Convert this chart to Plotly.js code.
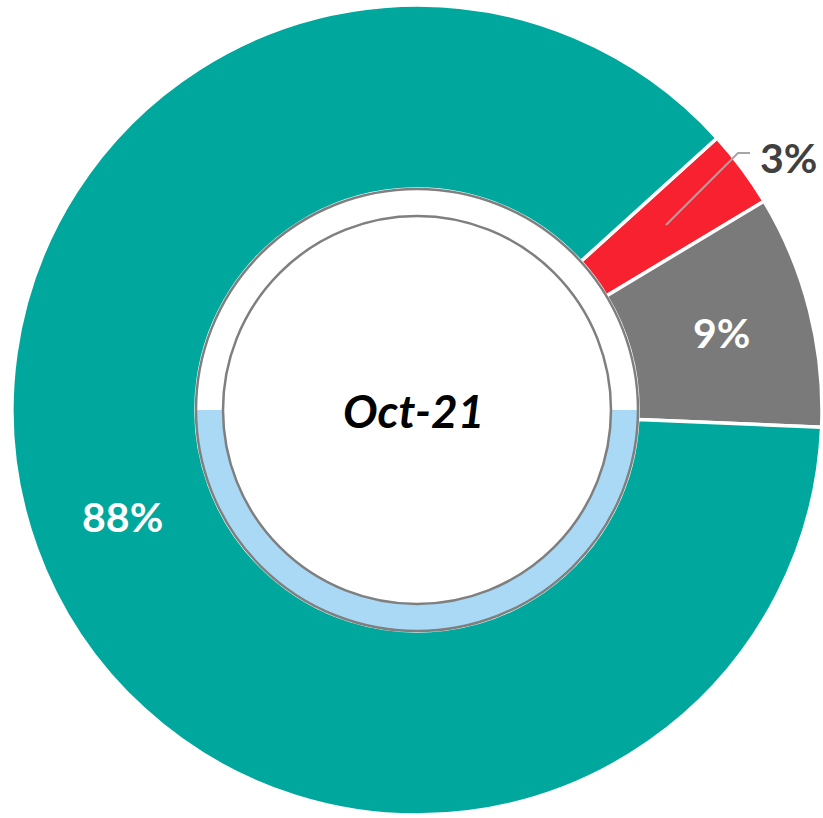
<!DOCTYPE html>
<html>
<head>
<meta charset="utf-8">
<script src="https://cdn.plot.ly/plotly-3.0.1.min.js"></script>
<style>html,body{margin:0;padding:0;background:#fff;}#chart{width:823px;height:818px;}</style>
</head>
<body>
<div id="chart"></div>
<script>
// Data
const categories = ['Red', 'Grey', 'Teal'];
const values = [3.1, 9.3, 87.6];
const sliceColors = ['#F8212F', '#7A7A7A', '#00A79D'];
const centerLabel = 'Oct-21';
const ringValues = [50, 50];

const W = 823, H = 818;
const cx = 417, cy = 410, R = 405, rRing = 221, rInner = 194;
const px = x => x / W;
const py = y => 1 - y / H;

const total = values.reduce((a, b) => a + b, 0);
const pctText = v => Math.round(v / total * 100) + '%';

const mainPie = {
  type: 'pie',
  labels: categories,
  values: values,
  sort: false,
  direction: 'clockwise',
  rotation: 47.8,
  hole: rRing / R,
  marker: { colors: sliceColors, line: { color: '#ffffff', width: 3.5 } },
  text: values.map((v, i) => i === 0 ? '' : '<b>' + pctText(v) + '</b>'),
  textinfo: 'text',
  textposition: 'inside',
  insidetextorientation: 'horizontal',
  insidetextfont: { family: 'Lato, sans-serif', size: 41, color: '#ffffff' },
  hoverinfo: 'skip',
  domain: { x: [px(cx - R), px(cx + R)], y: [py(cy + R), py(cy - R)] }
};

const ringPie = {
  type: 'pie',
  values: ringValues,
  labels: ['lower', 'upper'],
  sort: false,
  direction: 'clockwise',
  rotation: 90,
  hole: rInner / rRing,
  marker: { colors: ['#A9D9F5', 'rgba(0,0,0,0)'], line: { width: 0 } },
  textinfo: 'none',
  hoverinfo: 'skip',
  domain: { x: [px(cx - rRing), px(cx + rRing)], y: [py(cy + rRing), py(cy - rRing)] }
};

const layout = {
  width: W, height: H,
  margin: { l: 0, r: 0, t: 0, b: 0 },
  paper_bgcolor: '#ffffff',
  showlegend: false,
  shapes: [
    { type: 'circle', xref: 'paper', yref: 'paper',
      x0: px(cx - rRing), x1: px(cx + rRing), y0: py(cy + rRing), y1: py(cy - rRing),
      line: { color: '#7F7F7F', width: 2.5 } },
    { type: 'circle', xref: 'paper', yref: 'paper',
      x0: px(cx - rInner), x1: px(cx + rInner), y0: py(cy + rInner), y1: py(cy - rInner),
      line: { color: '#7F7F7F', width: 2.5 } },
    { type: 'path', xref: 'paper', yref: 'paper',
      path: 'M ' + px(666) + ' ' + py(225) + ' L ' + px(738) + ' ' + py(153) + ' L ' + px(750) + ' ' + py(153),
      line: { color: '#A6A6A6', width: 2 } }
  ],
  annotations: [
    { text: '<b><i>' + centerLabel + '</i></b>', xref: 'paper', yref: 'paper',
      x: px(413), y: py(410), xanchor: 'center', yanchor: 'middle', showarrow: false,
      font: { family: 'Lato, sans-serif', size: 46, color: '#000000' } },
    { text: '<b>' + pctText(values[0]) + '</b>', xref: 'paper', yref: 'paper',
      x: px(788), y: py(157), xanchor: 'center', yanchor: 'middle', showarrow: false,
      font: { family: 'Lato, sans-serif', size: 41, color: '#404040' } }
  ]
};

Plotly.newPlot('chart', [mainPie, ringPie], layout, { displayModeBar: false, staticPlot: true });
</script>
</body>
</html>
